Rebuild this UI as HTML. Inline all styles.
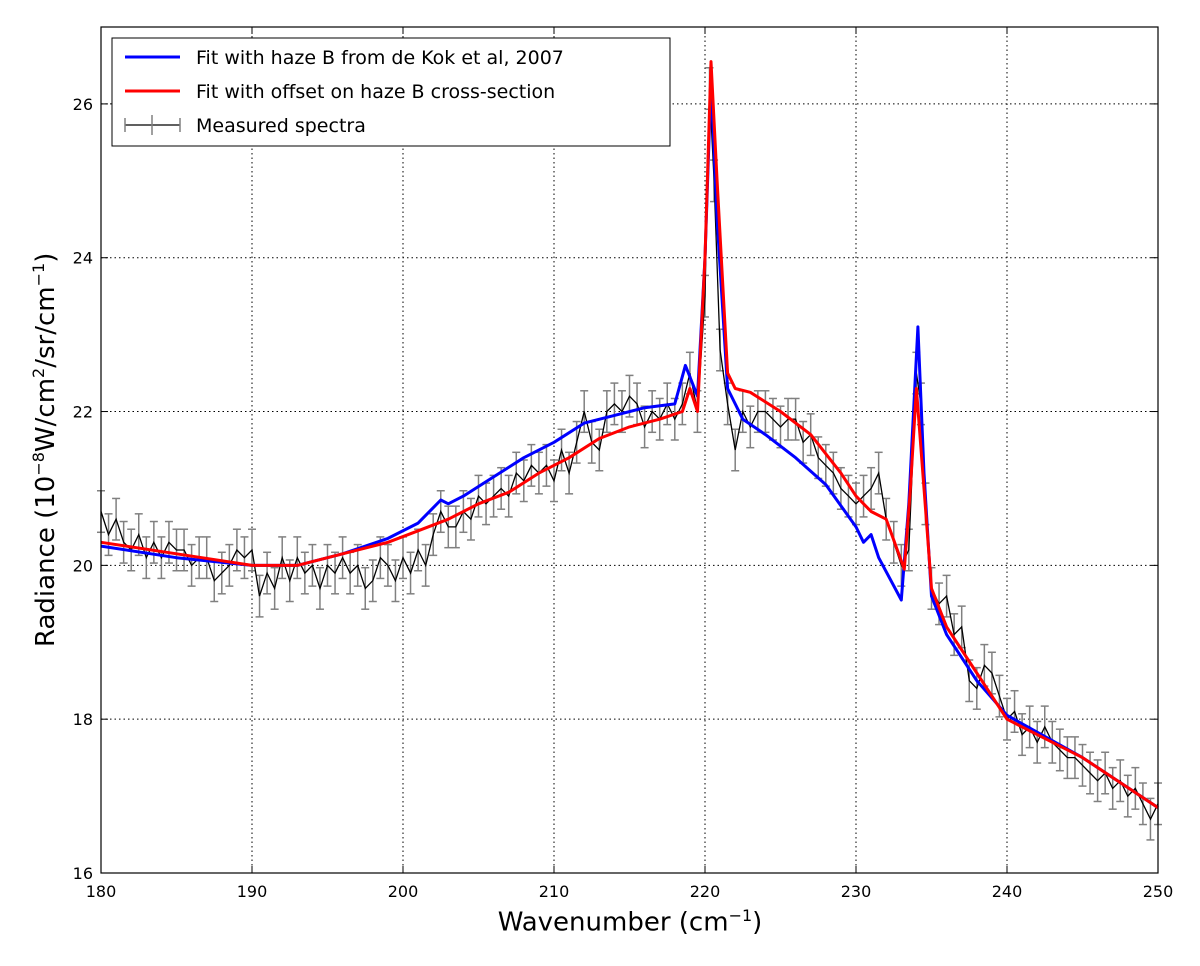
<!DOCTYPE html>
<html><head><meta charset="utf-8"><style>
body{margin:0;background:#fff;}
svg{display:block;font-family:"DejaVu Sans","Liberation Sans",sans-serif;}
</style></head><body>
<svg id="chart" width="1200" height="966"></svg>
<script>
const measX=[180,180.5,181,181.5,182,182.5,183,183.5,184,184.5,185,185.5,186,186.5,187,187.5,188,188.5,189,189.5,190,190.5,191,191.5,192,192.5,193,193.5,194,194.5,195,195.5,196,196.5,197,197.5,198,198.5,199,199.5,200,200.5,201,201.5,202,202.5,203,203.5,204,204.5,205,205.5,206,206.5,207,207.5,208,208.5,209,209.5,210,210.5,211,211.5,212,212.5,213,213.5,214,214.5,215,215.5,216,216.5,217,217.5,218,218.5,219,219.5,220,220.3,220.6,221,221.5,222,222.5,223,223.5,224,224.5,225,225.5,226,226.5,227,227.5,228,228.5,229,229.5,230,230.5,231,231.5,232,232.5,233,233.5,234,234.3,234.6,235,235.5,236,236.5,237,237.5,238,238.5,239,239.5,240,240.5,241,241.5,242,242.5,243,243.5,244,244.5,245,245.5,246,246.5,247,247.5,248,248.5,249,249.5,250];
const measY=[20.7,20.4,20.6,20.3,20.2,20.4,20.1,20.3,20.1,20.3,20.2,20.2,20.0,20.1,20.1,19.8,19.9,20.0,20.2,20.1,20.2,19.6,19.9,19.7,20.1,19.8,20.1,19.9,20.0,19.7,20.0,19.9,20.1,19.9,20.0,19.7,19.8,20.1,20.0,19.8,20.1,19.9,20.2,20.0,20.4,20.7,20.5,20.5,20.7,20.6,20.9,20.8,20.9,21.0,20.9,21.2,21.1,21.3,21.2,21.3,21.1,21.5,21.2,21.6,22.0,21.6,21.5,22.0,22.1,22.0,22.2,22.1,21.8,22.0,21.9,22.1,21.9,22.1,22.5,22.0,23.5,26.2,25.0,22.8,22.1,21.5,22.0,21.8,22.0,22.0,21.9,21.8,21.9,21.9,21.6,21.7,21.4,21.3,21.2,21.0,20.9,20.8,20.9,21.0,21.2,20.6,20.3,20.0,20.2,22.5,22.1,20.8,19.7,19.5,19.6,19.1,19.2,18.5,18.4,18.7,18.6,18.3,18.0,18.1,17.8,17.9,17.7,17.9,17.7,17.6,17.5,17.5,17.4,17.3,17.2,17.3,17.1,17.2,17.0,17.1,16.9,16.7,16.9];
const measErr=0.27;
const blueX=[180,185,190,193,196,199,201,202.5,203,204,206,208,210,212,214,216,218,218.7,219.5,220,220.4,220.8,221.5,222.5,224,226,228,230,230.5,231,231.5,233,233.5,234.1,234.5,235,236,238,240,245,250];
const blueY=[20.25,20.1,20.0,20.0,20.15,20.35,20.55,20.85,20.8,20.9,21.15,21.4,21.6,21.85,21.95,22.05,22.1,22.6,22.2,24,26.3,24.5,22.3,21.9,21.7,21.4,21.05,20.5,20.3,20.4,20.1,19.55,20.8,23.1,21.2,19.6,19.1,18.5,18.05,17.5,16.85];
const redX=[180,185,190,193,196,199,201,203,205,207,209,211,213,215,217,218.5,219,219.5,220,220.4,220.8,221.5,222,223,225,227,229,230,231,232,233.2,233.6,234,234.5,235,236,238,240,245,250];
const redY=[20.3,20.15,20.0,20.0,20.15,20.3,20.45,20.6,20.8,20.95,21.2,21.4,21.65,21.8,21.9,22.0,22.3,22.0,24,26.55,25,22.5,22.3,22.25,22.0,21.7,21.2,20.9,20.7,20.6,19.95,21,22.3,21,19.7,19.2,18.6,18.0,17.5,16.85];
const xTicks=[180,190,200,210,220,230,240,250];
const yTicks=[16,18,20,22,24,26];

const L=101,R=1158,T=27,B=873,x0=180,x1=250,y0=16,y1=27;
const sx=v=>L+(v-x0)/(x1-x0)*(R-L);
const sy=v=>B-(v-y0)/(y1-y0)*(B-T);
const svg=document.getElementById('chart');
const NS='http://www.w3.org/2000/svg';
function mk(tag,attrs,parent){const e=document.createElementNS(NS,tag);for(const k in attrs)e.setAttribute(k,attrs[k]);(parent||svg).appendChild(e);return e;}

const grid=mk('g',{});


xTicks.forEach(t=>{
  mk('line',{x1:sx(t),x2:sx(t),y1:T,y2:B,stroke:'#000','stroke-dasharray':'1.5,3','stroke-width':1},grid);
  mk('line',{x1:sx(t),x2:sx(t),y1:B,y2:B-7,stroke:'#000'},grid);
  mk('line',{x1:sx(t),x2:sx(t),y1:T,y2:T+7,stroke:'#000'},grid);
  const tx=mk('text',{x:sx(t),y:B+24,'text-anchor':'middle','font-size':16},grid);
  
  
  tx.textContent=t;
});
yTicks.forEach(t=>{
  mk('line',{x1:L,x2:R,y1:sy(t),y2:sy(t),stroke:'#000','stroke-dasharray':'1.5,3','stroke-width':1},grid);
  mk('line',{x1:L,x2:L+7,y1:sy(t),y2:sy(t),stroke:'#000'},grid);
  mk('line',{x1:R,x2:R-7,y1:sy(t),y2:sy(t),stroke:'#000'},grid);
  const tx=mk('text',{x:L-8,y:sy(t)+6,'text-anchor':'end','font-size':16},grid);
  
  
  tx.textContent=t;
});

const eb=mk('g',{stroke:'#808080','stroke-width':1.5});


measX.forEach((xv,i)=>{
  const X=sx(xv),a=sy(measY[i]-measErr),b=sy(measY[i]+measErr);
  mk('line',{x1:X,x2:X,y1:a,y2:b},eb);
  mk('line',{x1:X-4,x2:X+4,y1:a,y2:a},eb);
  mk('line',{x1:X-4,x2:X+4,y1:b,y2:b},eb);
});
const pts=(xs,ys)=>xs.map((v,i)=>sx(v).toFixed(1)+','+sy(ys[i]).toFixed(1)).join(' ');
const m=mk('polyline',{points:pts(measX,measY),fill:'none',stroke:'#000','stroke-width':1.3});


const bl=mk('polyline',{points:pts(blueX,blueY),fill:'none',stroke:'#0000ff','stroke-width':3,'stroke-linejoin':'round'});


const rl=mk('polyline',{points:pts(redX,redY),fill:'none',stroke:'#ff0000','stroke-width':3,'stroke-linejoin':'round'});



const fr=mk('rect',{x:L,y:T,width:R-L,height:B-T,fill:'none',stroke:'#000','stroke-width':1.2});



const lg=mk('g',{});


mk('rect',{x:112,y:38,width:558,height:108,fill:'#fff',stroke:'#000','stroke-width':1},lg);
mk('line',{x1:125,x2:180,y1:57,y2:57,stroke:'#0000ff','stroke-width':3},lg);
mk('line',{x1:125,x2:180,y1:91,y2:91,stroke:'#ff0000','stroke-width':3},lg);
mk('line',{x1:125,x2:180,y1:125,y2:125,stroke:'#000','stroke-width':1.3},lg);
mk('line',{x1:152,x2:152,y1:115,y2:135,stroke:'#808080','stroke-width':1.5},lg);
mk('line',{x1:125,x2:125,y1:118,y2:132,stroke:'#808080','stroke-width':1.5},lg);
mk('line',{x1:180,x2:180,y1:118,y2:132,stroke:'#808080','stroke-width':1.5},lg);
[['Fit with haze B from de Kok et al,  2007',57,'legend-entry-haze-b'],['Fit with offset on haze B cross-section',91,'legend-entry-offset'],['Measured spectra',125,'legend-entry-measured']].forEach(([s,y,n])=>{
  const t=mk('text',{x:196,y:y+7,'font-size':19,'xml:space':'preserve'},lg);
  
  
  t.textContent=s;
});
</script>
<div style="position:absolute;left:380px;top:906px;width:500px;text-align:center;font:26px 'DejaVu Sans','Liberation Sans',sans-serif;">Wavenumber (cm<sup style="font-size:16px">−1</sup>)</div>
<div style="position:absolute;left:-255px;top:434px;width:600px;text-align:center;transform:rotate(-90deg);font:26px 'DejaVu Sans','Liberation Sans',sans-serif;white-space:nowrap;">Radiance (10<sup style="font-size:16px">−8</sup>W/cm<sup style="font-size:16px">2</sup>/sr/cm<sup style="font-size:16px">−1</sup>)</div>
</body></html>
